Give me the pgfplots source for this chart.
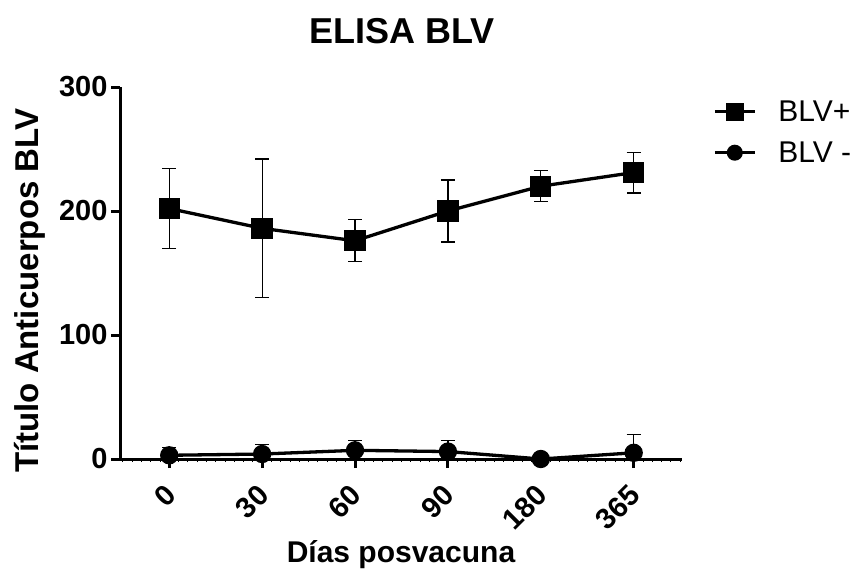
\documentclass[border=0pt]{standalone}
\usepackage{fontspec}
\setmainfont{Liberation Sans}
\usepackage{pgfplots}
\pgfplotsset{compat=1.18}
\begin{document}
\begin{tikzpicture}[x=1pt,y=1pt]
\useasboundingbox (0,0) rectangle (861,576);
\begin{axis}[
  at={(120pt,117pt)}, anchor=south west,
  scale only axis, width=562pt, height=372pt,
  xmin=-0.53, xmax=5.52, ymin=0, ymax=300,
  axis lines=left, axis line style={-, line width=3pt},
  clip=false,
  xtick={0,...,5}, xticklabels={0,30,60,90,180,365},
  ytick={0,100,200,300},
  minor xtick={-0.5,-0.4,...,5.5},
  tick align=outside, major tick length=9pt, minor tick length=3pt,
  every major tick/.append style={line width=3pt, black},
  every minor tick/.append style={line width=0.8pt, black},
  tick label style={font=\fontsize{29}{29}\selectfont\bfseries},
  /pgf/number format/assume math mode=true,
  xticklabel style={xshift=-6pt, yshift=-10pt, rotate=45, anchor=north east},
  title={ELISA BLV},
  title style={font=\fontsize{36}{36}\selectfont\bfseries, at={(axis description cs:0.502,1.135)}, anchor=center},
  xlabel={Días posvacuna},
  xlabel style={font=\fontsize{30}{30}\selectfont\bfseries, at={(axis description cs:0.5,-0.258)}, anchor=center},
  ylabel={Título Anticuerpos BLV},
  ylabel style={font=\fontsize{33}{33}\selectfont\bfseries, at={(axis description cs:-0.160,0.452)}, anchor=center},
  legend style={at={(1.05,0.975)}, anchor=north west, draw=none, fill=none,
    font=\fontsize{30}{36}\selectfont, row sep=15pt,
    /tikz/every odd column/.append style={column sep=20pt}},
  legend cell align=left,
  legend image code/.code={\draw[mark repeat=2,mark phase=2] plot coordinates {(0pt,0pt)(20pt,0pt)(40pt,0pt)};},
]
\addplot[black, line width=3.3pt, mark=square*, mark size=9pt, mark options={solid},
  legend image post style={mark size=7.5pt, line width=3pt},
  error bars/.cd, y dir=both, y explicit,
  error bar style={line width=1.2pt},
  error mark options={rotate=90, mark size=7pt, line width=1.2pt}]
coordinates {
(0,202) +- (0,32)
(1,186) +- (0,56)
(2,176) +- (0,17)
(3,200) +- (0,25)
(4,220) +- (0,12.5)
(5,231) +- (0,16.5)
};
\addlegendentry{BLV+}
\addplot[black, line width=3.3pt, mark=*, mark size=7.5pt, mark options={solid},
  legend image post style={mark size=6.5pt, line width=3pt},
  error bars/.cd, y dir=both, y explicit,
  error bar style={line width=1.2pt},
  error mark options={rotate=90, mark size=7pt, line width=1.2pt}]
coordinates {
(0,3) += (0,6) -= (0,3)
(1,4) += (0,8) -= (0,4)
(2,7) += (0,8) -= (0,7)
(3,6) += (0,9) -= (0,6)
(4,0) += (0,0) -= (0,0)
(5,5) += (0,15) -= (0,5)
};
\addlegendentry{BLV -}
\end{axis}
\end{tikzpicture}
\end{document}
